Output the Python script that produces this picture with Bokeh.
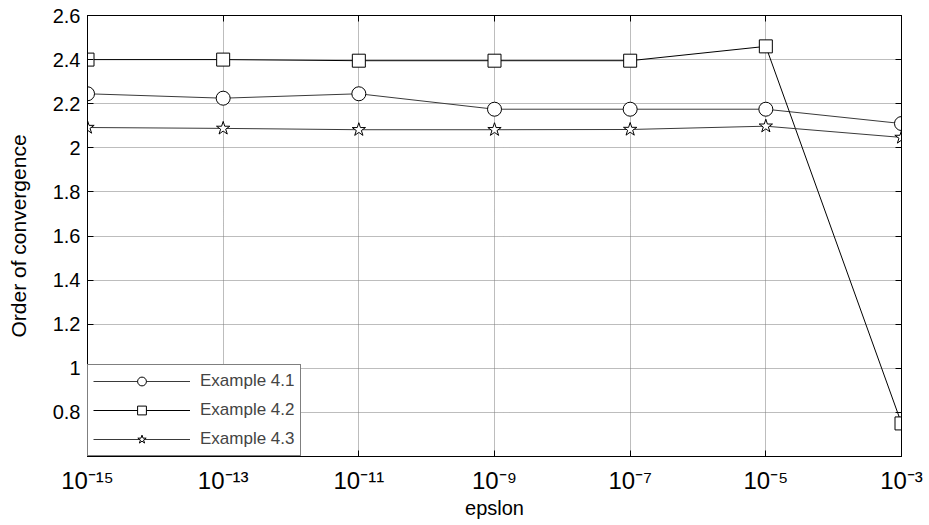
from bokeh.plotting import figure
from bokeh.models import (Legend, LegendItem, FixedTicker, LinearAxis,
                          LogAxis, Range1d)
from bokeh.embed import file_html
from bokeh.resources import INLINE

# ---- data ----
tick_exps = [-15, -13, -11, -9, -7, -5, -3]
epsilon = [10.0 ** e for e in tick_exps]
ex41 = [2.245, 2.225, 2.245, 2.175, 2.175, 2.175, 2.11]
ex42 = [2.40, 2.40, 2.395, 2.395, 2.395, 2.46, 0.75]
ex43 = [2.092, 2.088, 2.082, 2.082, 2.083, 2.098, 2.047]
y_ticks = [0.8, 1.0, 1.2, 1.4, 1.6, 1.8, 2.0, 2.2, 2.4, 2.6]
series_names = ["Example 4.1", "Example 4.2", "Example 4.3"]

FONT = "Liberation Sans"
SUP = str.maketrans("-0123456789", "⁻⁰¹²³⁴⁵⁶⁷⁸⁹")

p = figure(width=929, height=525, x_axis_type="log",
           x_range=Range1d(1e-15, 1e-3), y_range=Range1d(0.6, 2.6),
           output_backend="svg", toolbar_location=None,
           min_border_left=87, min_border_right=28,
           min_border_top=15, min_border_bottom=69)

p.background_fill_color = "white"
p.border_fill_color = "white"
p.outline_line_color = "black"
p.outline_line_width = 1

# grids
p.xgrid.ticker = FixedTicker(ticks=epsilon)
p.ygrid.ticker = FixedTicker(ticks=y_ticks)
for g in (p.xgrid, p.ygrid):
    g.grid_line_color = "#7a7a7a"
    g.grid_line_dash = "1 1"
    g.grid_line_width = 1

# main axes
xa = p.xaxis[0]
xa.ticker = FixedTicker(ticks=epsilon)
xa.major_label_overrides = {v: "10" + str(e).translate(SUP)
                            for v, e in zip(epsilon, tick_exps)}
xa.major_label_text_font = FONT
xa.major_label_text_font_size = "24px"
xa.major_label_standoff = 10
xa.axis_label = "epslon"
xa.axis_label_text_font = FONT
xa.axis_label_text_font_size = "20px"
xa.axis_label_text_font_style = "normal"
xa.axis_label_standoff = 0

ya = p.yaxis[0]
ya.ticker = FixedTicker(ticks=y_ticks)
ya.major_label_overrides = {1.0: "1", 2.0: "2"}
ya.major_label_text_font = FONT
ya.major_label_text_font_size = "20px"
ya.major_label_standoff = 7
ya.axis_label = "Order of convergence"
ya.axis_label_text_font = FONT
ya.axis_label_text_font_size = "21px"
ya.axis_label_text_font_style = "normal"
ya.axis_label_standoff = 20

for ax in (xa, ya):
    ax.axis_line_color = "black"
    ax.major_tick_line_color = "black"
    ax.major_tick_in = 6
    ax.major_tick_out = 0
    ax.minor_tick_line_color = None
    ax.major_label_text_color = "black"
    ax.axis_label_text_color = "black"

# mirrored axes (top / right) with inward ticks only
top = LogAxis(ticker=FixedTicker(ticks=epsilon), major_label_text_font_size="1px",
              major_label_text_alpha=0, major_label_standoff=0,
              major_tick_in=6, major_tick_out=0, minor_tick_line_color=None,
              axis_line_color="black")
right = LinearAxis(ticker=FixedTicker(ticks=y_ticks), major_label_text_font_size="1px",
                   major_label_text_alpha=0, major_label_standoff=0,
                   major_tick_in=6, major_tick_out=0, minor_tick_line_color=None,
                   axis_line_color="black")
p.add_layout(top, "above")
p.add_layout(right, "right")

# series
l1 = p.line(epsilon, ex41, line_color="#3a3a3a", line_width=1)
m1 = p.scatter(epsilon, ex41, marker="circle", size=14, fill_color="white",
               line_color="black", line_width=1)
l2 = p.line(epsilon, ex42, line_color="black", line_width=1)
m2 = p.scatter(epsilon, ex42, marker="square", size=13, fill_color="white",
               line_color="black", line_width=1)
l3 = p.line(epsilon, ex43, line_color="#3a3a3a", line_width=1)
m3 = p.scatter(epsilon, ex43, marker="star", size=14, fill_color="white",
               line_color="black", line_width=1)

legend = Legend(items=[LegendItem(label=series_names[0], renderers=[l1, m1]),
                       LegendItem(label=series_names[1], renderers=[l2, m2]),
                       LegendItem(label=series_names[2], renderers=[l3, m3])],
                location=(0, 0), margin=0, padding=5, spacing=7,
                glyph_width=97, glyph_height=22, label_height=22,
                label_standoff=10, label_text_font=FONT,
                label_text_font_size="17px",
                border_line_color="black", border_line_width=1,
                background_fill_color="white", background_fill_alpha=1.0)
p.add_layout(legend)

open("out.html", "w").write(file_html(p, INLINE))
